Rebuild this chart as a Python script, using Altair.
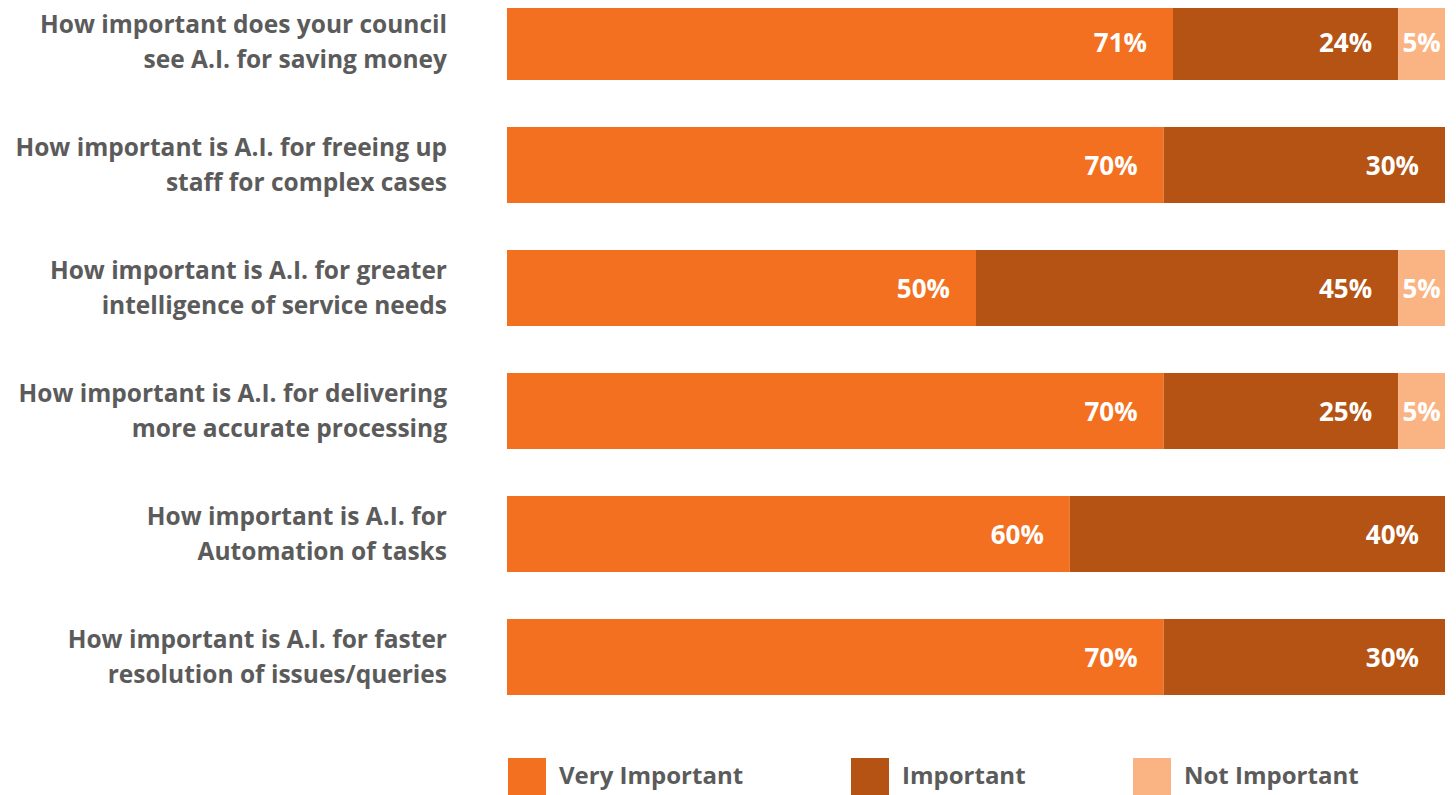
import altair as alt
import pandas as pd

questions = [
    "How important does your council\nsee A.I. for saving money",
    "How important is A.I. for freeing up\nstaff for complex cases",
    "How important is A.I. for greater\nintelligence of service needs",
    "How important is A.I. for delivering\nmore accurate processing",
    "How important is A.I. for\nAutomation of tasks",
    "How important is A.I. for faster\nresolution of issues/queries",
]
categories = ["Very Important", "Important", "Not Important"]
very_important = [71, 70, 50, 70, 60, 70]
important = [24, 30, 45, 25, 40, 30]
not_important = [5, 0, 5, 5, 0, 0]
colors = ["#F37021", "#B45314", "#FAB483"]

FONT = "Open Sans"
GREY = "#5b5b5b"

rows = []
for i, q in enumerate(questions):
    start = 0
    for cat, vals in zip(categories, [very_important, important, not_important]):
        v = vals[i]
        if v > 0:
            end = start + v
            rows.append({
                "q": q, "cat": cat, "value": v, "start": start, "end": end,
                "mid": (start + end) / 2, "label": f"{v}%", "small": v < 10,
            })
            start = end
df = pd.DataFrame(rows)
qdf = pd.DataFrame({"q": questions})

yenc = alt.Y("q:N", sort=questions, axis=None,
             scale=alt.Scale(paddingInner=0.382, paddingOuter=0))

bars = alt.Chart(df).mark_bar(cornerRadius=0).encode(
    x=alt.X("start:Q", scale=alt.Scale(domain=[0, 100], nice=False), axis=None),
    x2="end:Q",
    y=yenc,
    color=alt.Color(
        "cat:N",
        scale=alt.Scale(domain=categories, range=colors),
        sort=categories,
        legend=alt.Legend(
            title=None, orient="none", direction="horizontal",
            legendX=1, legendY=754,
            symbolType="square", symbolSize=1444, symbolStrokeWidth=0,
            symbolOpacity=1,
            labelFont=FONT, labelFontSize=24, labelFontWeight="bold",
            labelColor=GREY, labelOffset=13, columnPadding=107,
            labelLimit=400,
        ),
    ),
)

big_labels = alt.Chart(df).transform_filter("!datum.small").mark_text(
    align="right", baseline="middle", dx=-26, dy=2, font=FONT, fontSize=26,
    fontWeight="bold", color="white",
).encode(x="end:Q", y=yenc, text="label:N")

small_labels = alt.Chart(df).transform_filter("datum.small").mark_text(
    align="center", baseline="middle", dy=2, font=FONT, fontSize=26,
    fontWeight="bold", color="white",
).encode(x="mid:Q", y=yenc, text="label:N")

qlabels = alt.Chart(qdf).mark_text(
    align="right", baseline="middle", font=FONT, fontSize=24.5,
    fontWeight="bold", color=GREY, lineBreak="\n", lineHeight=35, dy=-16,
).encode(x=alt.value(-60), y=yenc, text="q:N")

chart = alt.layer(bars, big_labels, small_labels, qlabels).properties(
    width=938, height=691,
    autosize=alt.AutoSizeParams(type="none"),
    padding={"left": 499, "top": -4, "right": 3, "bottom": 100},
).configure_view(stroke=None)

chart.save("out.html", embed_options={"renderer": "svg", "actions": False})
